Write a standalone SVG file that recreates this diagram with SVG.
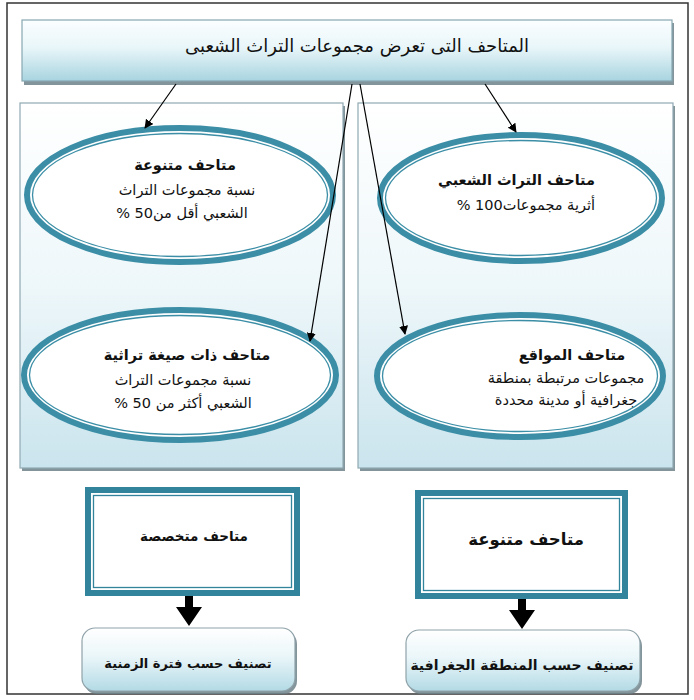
<svg xmlns="http://www.w3.org/2000/svg" width="694" height="700" viewBox="0 0 694 700">
<defs>
<linearGradient id="gHeader" x1="0" y1="0" x2="0" y2="1">
<stop offset="0" stop-color="#fbfeff"/>
<stop offset="0.45" stop-color="#e9f6f9"/>
<stop offset="1" stop-color="#a8d4e0"/>
</linearGradient>
<linearGradient id="gPanel" x1="0" y1="0" x2="0" y2="1">
<stop offset="0" stop-color="#ffffff"/>
<stop offset="0.5" stop-color="#eef7fa"/>
<stop offset="1" stop-color="#cae4ed"/>
</linearGradient>
<linearGradient id="gBox" x1="0" y1="0" x2="0" y2="1">
<stop offset="0" stop-color="#ffffff"/>
<stop offset="0.45" stop-color="#eaf6f9"/>
<stop offset="1" stop-color="#b3dae5"/>
</linearGradient>
<marker id="arr" viewBox="0 0 10 10" refX="9" refY="5" markerWidth="9" markerHeight="9" markerUnits="userSpaceOnUse" orient="auto">
<path d="M0,0 L10,5 L0,10 z" fill="#000"/>
</marker>
</defs>
<style>
text{font-family:"DejaVu Sans","Noto Sans",sans-serif;fill:#111;}
.t{font-size:14.5px;}
.b{font-size:14.5px;font-weight:bold;}
.hdr{font-size:18px;}
.panel{fill:url(#gPanel);stroke:#8fa9b2;stroke-width:1.2;}
.shadow{fill:#6d8189;opacity:0.85;}
.ell{fill:#ffffff;stroke:#3b8ea6;stroke-width:6;}
.ellin{fill:none;stroke:#3b8ea6;stroke-width:1.3;}
.frame{fill:#ffffff;stroke:#31849b;stroke-width:6;}
.framein{fill:none;stroke:#31849b;stroke-width:1.3;}
.rbox{fill:url(#gBox);stroke:#8fa2a9;stroke-width:1.2;}
.conn{stroke:#000;stroke-width:1.2;fill:none;marker-end:url(#arr);}
.big{fill:#000;}
</style>

<rect x="7" y="3" width="681" height="691" fill="#ffffff" stroke="#333" stroke-width="1.5"/>

<g id="header">
<rect x="24" y="23" width="650" height="62" class="shadow"/>
<rect x="22" y="20" width="650" height="61" fill="url(#gHeader)" stroke="#86a7b1" stroke-width="1.2"/>
<text x="357" y="52" class="hdr" text-anchor="middle" direction="rtl">المتاحف التى تعرض مجموعات التراث الشعبى</text>
</g>

<g id="panel-left">
<rect x="22" y="106" width="323" height="365" class="shadow"/>
<rect x="20" y="103" width="323" height="365" class="panel"/>
</g>
<g id="panel-right">
<rect x="360" y="106" width="315" height="365" class="shadow"/>
<rect x="358" y="103" width="315" height="365" class="panel"/>
</g>

<g id="ellipse-mixed">
<ellipse cx="180" cy="195" rx="153" ry="67" class="ell"/>
<ellipse cx="180" cy="195" rx="147.5" ry="61.5" class="ellin"/>
<text x="185" y="170" class="b" text-anchor="middle" direction="rtl">متاحف متنوعة</text>
<text x="187" y="195" class="t" text-anchor="middle" direction="rtl">نسبة مجموعات التراث</text>
<text x="182" y="218" class="t" text-anchor="middle" direction="rtl">الشعبي أقل من50  %</text>
</g>

<g id="ellipse-folk">
<ellipse cx="521" cy="198" rx="141" ry="63" class="ell"/>
<ellipse cx="521" cy="198" rx="135.5" ry="57.5" class="ellin"/>
<text x="595" y="185" class="b" text-anchor="start" direction="rtl">متاحف التراث الشعبي</text>
<text x="595" y="210" class="t" text-anchor="start" direction="rtl">أثرية مجموعات100 %</text>
</g>

<g id="ellipse-heritage">
<ellipse cx="180" cy="375" rx="156" ry="65" class="ell"/>
<ellipse cx="180" cy="375" rx="150.5" ry="59.5" class="ellin"/>
<text x="187" y="360" class="b" text-anchor="middle" direction="rtl">متاحف ذات صيغة تراثية</text>
<text x="183" y="385" class="t" text-anchor="middle" direction="rtl">نسبة مجموعات التراث</text>
<text x="183" y="408" class="t" text-anchor="middle" direction="rtl">الشعبي أكثر من 50 %</text>
</g>

<g id="ellipse-sites">
<ellipse cx="520" cy="376" rx="143" ry="61" class="ell"/>
<ellipse cx="520" cy="376" rx="137.5" ry="55.5" class="ellin"/>
<text x="572" y="360" class="b" text-anchor="middle" direction="rtl">متاحف المواقع</text>
<text x="566" y="383" class="t" text-anchor="middle" direction="rtl">مجموعات مرتبطة بمنطقة</text>
<text x="566" y="405" class="t" text-anchor="middle" direction="rtl">جغرافية أو مدينة محددة</text>
</g>

<g id="box-specialized">
<rect x="90" y="493" width="209" height="103" fill="#7c9098" opacity="0.6"/>
<rect x="88" y="490" width="209" height="103" class="frame"/>
<rect x="93.5" y="495.5" width="198" height="92" class="framein"/>
<text x="194" y="541" class="b" text-anchor="middle" direction="rtl" style="font-size:13.5px">متاحف متخصصة</text>
</g>

<g id="box-diverse">
<rect x="420" y="496" width="207" height="103" fill="#7c9098" opacity="0.6"/>
<rect x="418" y="493" width="207" height="103" class="frame"/>
<rect x="423.5" y="498.5" width="196" height="92" class="framein"/>
<text x="526" y="545" class="b" text-anchor="middle" direction="rtl" style="font-size:16.5px">متاحف متنوعة</text>
</g>

<g id="class-period">
<rect x="84" y="631" width="213" height="63" rx="13" class="shadow"/>
<rect x="82" y="628" width="213" height="63" rx="13" class="rbox"/>
<text x="188" y="668" class="b" text-anchor="middle" direction="rtl" style="font-size:13px">تصنيف حسب فترة الزمنية</text>
</g>

<g id="class-region">
<rect x="408" y="633" width="234" height="61" rx="13" class="shadow"/>
<rect x="406" y="630" width="234" height="61" rx="13" class="rbox"/>
<text x="522" y="670" class="b" text-anchor="middle" direction="rtl" style="font-size:14px">تصنيف حسب المنطقة الجغرافية</text>
</g>

<g id="connectors">
<line x1="176" y1="84" x2="145" y2="128" class="conn"/>
<line x1="352" y1="84" x2="310" y2="341" class="conn"/>
<line x1="360" y1="84" x2="405" y2="334" class="conn"/>
<line x1="485" y1="84" x2="516" y2="132" class="conn"/>
<path class="big" d="M185,596 L193,596 L193,607 L202,607 L189,626 L176,607 L185,607 z"/>
<path class="big" d="M518,599 L526,599 L526,610 L535,610 L522,629 L509,610 L518,610 z"/>
</g>
</svg>
